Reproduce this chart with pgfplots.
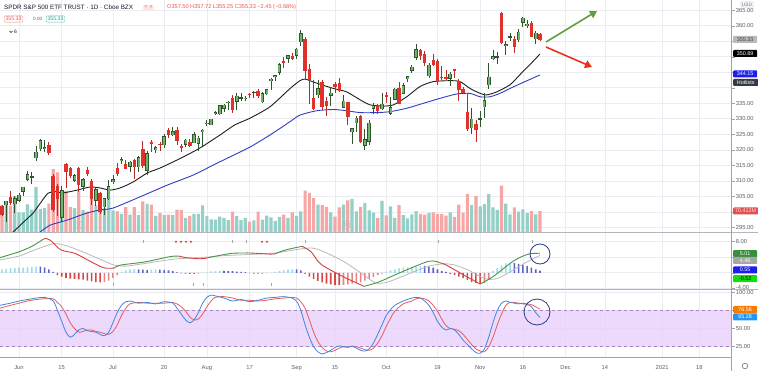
\documentclass[border=0pt]{standalone}
\usepackage{pgfplots}
\pgfplotsset{compat=1.18}
\usepackage{pgfplotstable}
\usetikzlibrary{arrows.meta}
\usepackage{fontspec}
\setmainfont{Liberation Sans}
\newfontfamily\sym{DejaVu Sans}
\newcommand\tf{\fontsize{5.8}{7}\selectfont}
\definecolor{gridc}{RGB}{234,236,241}
\definecolor{tickc}{RGB}{90,94,106}
\definecolor{axisc}{RGB}{160,163,172}
\definecolor{sepc}{RGB}{178,181,190}
\definecolor{upc}{RGB}{112,182,104}
\definecolor{upo}{RGB}{48,84,48}
\definecolor{dnc}{RGB}{224,49,42}
\definecolor{dnw}{RGB}{190,40,35}
\definecolor{volup}{RGB}{146,208,200}
\definecolor{voldn}{RGB}{246,166,164}
\definecolor{maK}{RGB}{30,30,30}
\definecolor{maB}{RGB}{50,60,190}
\definecolor{macdG}{RGB}{70,150,70}
\definecolor{macdR}{RGB}{220,60,60}
\definecolor{sigc}{RGB}{185,185,185}
\definecolor{hA}{RGB}{95,95,200}
\definecolor{hB}{RGB}{160,220,232}
\definecolor{hC}{RGB}{215,70,70}
\definecolor{hD}{RGB}{232,130,130}
\definecolor{stK}{RGB}{66,133,220}
\definecolor{stD}{RGB}{235,90,90}
\definecolor{band}{RGB}{233,210,250}
\definecolor{bandl}{RGB}{165,135,190}
\definecolor{tvred}{RGB}{239,83,80}
\definecolor{tvteal}{RGB}{38,166,154}
\definecolor{txt}{RGB}{19,23,34}
\definecolor{arrg}{RGB}{96,160,60}
\definecolor{arrr}{RGB}{232,50,30}
\definecolor{circ}{RGB}{40,60,140}

\pgfplotstableread{
i O H L C V
-4 301.93 302.19 298.69 299.08 89
-3 302.12 303.57 296.87 303.53 104
-2 304.65 306.84 302.24 302.97 87
-1 302.46 304.96 299.47 304.32 119
0 303.62 306.21 303.06 305.55 66
1 306.55 308.13 305.10 308.08 66
2 310.24 313.22 309.94 312.18 92
3 311.11 313.00 309.08 311.36 75
4 317.23 321.27 316.47 319.34 150
5 320.22 323.41 319.63 323.20 77
6 320.30 323.28 319.36 320.79 80
7 321.42 322.39 318.22 319.00 95
8 311.46 312.15 300.01 300.61 209
9 308.24 309.08 298.60 304.21 198
10 298.02 308.28 296.74 307.05 135
11 315.48 315.64 307.67 312.96 137
12 314.07 314.39 310.86 311.66 83
13 310.00 312.30 309.51 311.78 80
14 314.17 314.38 306.53 308.64 135
15 307.99 311.05 306.75 310.62 74
16 313.49 314.50 311.61 312.05 68
17 309.84 310.51 302.10 304.09 131
18 303.47 307.64 301.88 307.35 89
19 306.16 306.39 299.42 300.05 127
20 301.41 304.61 298.93 304.46 79
21 303.99 310.20 303.82 308.36 113
22 309.57 311.89 309.07 310.52 72
23 314.24 315.70 311.51 312.23 69
24 316.37 317.68 315.56 317.05 61
25 315.38 316.70 313.70 313.78 83
26 314.61 316.30 312.70 316.18 58
27 316.84 317.10 310.68 314.38 83
28 314.31 317.88 312.76 317.59 57
29 320.13 322.71 314.13 314.84 102
30 313.30 319.76 312.00 318.92 94
31 322.41 323.04 319.27 321.85 91
32 319.79 321.28 319.09 320.79 54
33 321.88 322.57 319.74 321.72 63
34 321.43 325.13 320.62 324.32 57
35 326.45 326.93 323.94 324.84 58
36 324.62 327.20 324.50 326.04 57
37 326.47 327.23 321.48 322.98 75
38 320.95 321.99 319.25 320.88 73
39 321.63 323.41 320.77 323.22 48
40 322.43 323.64 320.85 321.17 54
41 322.12 325.73 322.08 325.12 61
42 321.90 324.41 319.64 323.96 61
43 325.90 326.63 321.33 326.52 89
44 328.32 329.62 327.73 328.79 53
45 327.86 330.06 327.86 330.06 43
46 331.47 332.39 331.18 332.11 42
47 331.48 334.46 331.13 334.33 52
48 333.28 334.88 332.30 334.57 48
49 335.06 335.77 332.96 335.57 40
50 336.85 337.54 331.87 332.80 68
51 335.44 338.28 332.84 337.44 53
52 336.60 338.25 335.83 336.83 41
53 336.41 337.42 335.62 336.84 47
54 337.94 338.34 336.85 337.91 35
55 338.34 339.10 336.61 338.64 39
56 339.05 339.61 336.62 337.23 68
57 335.36 338.80 335.22 338.28 42
58 337.92 339.72 337.55 339.48 55
59 342.12 343.00 339.45 342.92 49
60 343.53 344.21 342.27 344.12 38
61 344.76 347.86 344.17 347.57 51
62 348.51 349.90 346.53 348.33 58
63 349.44 350.72 348.15 350.58 48
64 350.35 351.30 349.06 349.31 66
65 350.35 352.71 349.24 352.60 54
66 354.67 358.75 353.43 357.70 69
67 355.87 356.38 342.59 345.39 138
68 346.13 347.83 334.87 342.57 130
69 336.71 342.64 332.88 333.21 113
70 337.55 342.46 336.61 339.79 91
71 341.82 342.53 332.85 333.89 90
72 335.82 336.97 331.00 334.06 84
73 337.49 340.38 334.22 338.46 66
74 341.12 342.02 338.47 340.17 52
75 341.51 343.06 338.52 338.82 82
76 333.56 337.70 333.56 335.84 91
77 335.37 335.49 327.97 330.65 105
78 325.70 327.13 321.73 326.97 110
79 328.57 330.90 325.86 330.30 69
80 330.90 331.20 322.10 322.64 84
81 321.22 326.80 319.80 323.50 96
82 322.58 329.58 321.64 328.73 72
83 333.22 334.96 331.61 334.19 65
84 333.97 334.77 331.62 332.37 48
85 333.09 338.29 332.88 334.89 104
86 337.69 338.74 335.01 337.04 56
87 331.70 337.02 331.19 333.84 86
88 336.06 339.96 336.01 339.76 48
89 339.91 342.01 334.82 334.93 90
90 338.12 341.63 338.09 340.76 57
91 342.85 343.85 341.86 343.78 46
92 345.56 347.35 344.89 346.85 59
93 349.59 354.02 349.06 352.43 70
94 352.28 352.47 349.09 350.13 61
95 350.75 351.93 347.14 347.93 58
96 343.71 348.02 343.13 347.50 64
97 348.96 350.75 347.10 347.29 66
98 348.65 349.33 341.04 342.01 61
99 343.46 346.88 342.64 343.38 60
100 343.33 345.67 342.40 342.73 55
101 342.96 345.24 340.65 344.61 66
102 345.93 345.99 343.13 345.78 51
103 342.13 342.98 335.62 339.39 91
104 339.76 340.12 337.99 338.22 65
105 332.10 338.25 326.13 326.66 127
106 326.91 333.40 325.09 329.98 90
107 328.28 329.69 322.60 326.54 120
108 329.90 332.36 327.24 330.20 86
109 333.69 338.25 330.29 336.03 93
110 340.86 347.94 339.59 343.54 126
111 349.24 352.19 348.86 350.24 82
112 349.93 351.51 347.65 350.16 74
113 363.97 364.38 354.06 354.56 154
114 353.49 355.18 350.51 354.04 95
115 356.40 357.56 355.06 356.67 59
116 355.58 356.72 351.26 353.21 82
117 355.27 358.90 354.71 358.10 68
118 360.98 362.78 359.59 362.57 76
119 359.97 361.92 359.33 360.62 63
120 360.91 361.50 356.24 356.28 70
121 355.60 358.18 354.15 357.78 59
122 357.50 357.72 355.25 355.33 70
}\ohlc

\pgfplotstableread{
i h c
-4 0.9 1
-3 1.0 1
-2 1.1 1
-1 1.2 1
0 1.3 1
1 1.3 1
2 1.4 1
3 1.5 1
4 1.6 1
5 1.6 2
6 1.4 2
7 0.9 2
8 0.2 2
9 -0.6 3
10 -1.0 3
11 -1.3 3
12 -1.5 3
13 -1.6 3
14 -1.7 3
15 -1.8 3
16 -2.0 3
17 -2.2 3
18 -2.4 3
19 -2.5 3
20 -2.4 4
21 -2.0 4
22 -1.4 4
23 -0.6 4
24 0.3 1
25 0.6 1
26 0.8 1
27 0.9 1
28 0.9 2
29 0.8 2
30 0.7 2
31 0.8 1
32 0.9 1
33 0.8 2
34 0.7 2
35 0.6 2
36 0.4 2
37 0.1 2
38 -0.15 3
39 -0.25 3
40 -0.3 3
41 -0.3 3
42 -0.2 4
43 -0.1 4
44 0.2 1
45 0.35 1
46 0.45 1
47 0.5 1
48 0.5 2
49 0.45 2
50 0.4 2
51 0.3 2
52 0.25 2
53 0.15 2
54 -0.1 3
55 -0.2 3
56 -0.2 3
57 -0.25 3
58 -0.15 4
59 -0.05 4
60 0.2 1
61 0.4 1
62 0.6 1
63 0.8 1
64 0.9 1
65 0.9 2
66 0.6 2
67 -0.3 3
68 -1.0 3
69 -1.6 3
70 -2.1 3
71 -2.5 3
72 -2.8 3
73 -3.0 3
74 -3.2 3
75 -3.2 3
76 -3.1 4
77 -3.0 4
78 -2.8 4
79 -2.6 4
80 -2.4 4
81 -2.0 4
82 -1.6 4
83 -1.1 4
84 -0.6 4
85 -0.2 4
86 0.3 1
87 0.6 1
88 0.9 1
89 1.2 1
90 1.3 1
91 1.4 1
92 1.5 1
93 1.6 1
94 1.8 1
95 1.8 2
96 1.6 2
97 1.3 2
98 0.9 2
99 0.5 2
100 0.2 2
101 -0.3 3
102 -0.6 3
103 -1.0 3
104 -1.4 3
105 -1.9 3
106 -2.4 3
107 -2.7 3
108 -2.9 3
109 -2.6 4
110 -1.8 4
111 0.5 1
112 1.2 1
113 1.9 1
114 2.4 1
115 2.6 1
116 2.5 2
117 2.3 2
118 2.0 2
119 1.7 2
120 1.3 2
121 0.9 2
122 0.55 2
}\hist

\pgfplotstableread{
i K D
-4.5 82 78
-2 85 82
0 88 85
2 90 88
4 92 90
6 93 91
8 88 91
9 75 86
10 60 80
11 45 70
12 38 58
13 42 50
14 48 45
15 50 46
16 47 48
17 46 48
18 45 46
19 42 45
20 40 43
21 45 42
22 58 46
23 72 55
24 82 68
25 87 78
26 88 84
28 85 86
30 86 85
32 84 85
34 87 85
36 85 86
37 78 84
38 70 80
39 62 74
40 58 66
41 62 62
42 72 63
43 85 70
44 93 80
45 96 88
46 95 93
48 92 94
50 88 92
52 90 89
54 87 89
56 89 88
58 92 89
60 93 91
62 94 92
64 92 93
65 88 92
66 75 87
67 55 78
68 38 62
69 25 45
70 18 32
71 15 24
72 17 19
73 20 18
74 24 20
75 26 23
76 25 25
77 24 25
78 26 25
79 23 25
80 20 23
81 19 21
82 22 20
83 30 23
84 42 30
85 55 40
86 68 53
87 76 64
88 82 74
90 88 84
92 92 88
93 93 91
94 92 92
95 88 91
96 82 88
97 72 82
98 60 74
99 52 63
100 48 54
101 50 50
102 48 49
103 42 47
104 34 42
105 28 35
106 22 28
107 17 22
108 16 19
109 22 18
110 38 25
111 58 38
112 75 55
113 85 70
114 88 82
115 86 86
116 85 86
117 84 85
118 85 84
119 83 84
120 80 83
121 72 80
122 65.28 76.56
}\stoch

\pgfplotsset{
  panel/.style={scale only axis, xmin=-4.45, xmax=166.9, axis line style={draw=none},
    xtick={0,10,22,34,44,54,65,74,86,98,108,118,128,137.2,150.6,159.3},
    xtick style={draw=none}, grid=major, major grid style={draw=gridc, line width=0.6pt},
    ytick pos=right, yticklabel pos=right, ytick style={draw=axisc, line width=0.5pt},
    tick align=outside, major tick length=3pt,
    yticklabel style={font=\tf, text=tickc, inner sep=1pt}},
  over/.style={scale only axis, xmin=-4.45, xmax=166.9, hide axis},
  wick/.style={draw=none, mark=none, forget plot, error bars/y dir=both,
    error bars/y explicit, error bars/error mark=none},
}

\begin{document}
\begin{tikzpicture}[x=1pt,y=1pt]
\path[use as bounding box] (0pt,0pt) rectangle (758pt,-371pt);

% ---------- main price panel: grid and ticks ----------
\begin{axis}[panel, at={(0pt,0pt)}, anchor=north west, width=731.7pt, height=232.3pt,
  ymin=293.39, ymax=368.32, ytick={295,300,...,365}, xticklabels={},
  yticklabels={295.00,,305.00,310.00,315.00,320.00,325.00,330.00,335.00,,,,,360.00,365.00}]
\addplot[draw=none] coordinates {(0,300)};
\end{axis}

% ---------- volume ----------
\begin{axis}[over, at={(0pt,0pt)}, anchor=north west, width=731.7pt, height=232.3pt, ymin=0, ymax=767]
\addplot[ybar, bar width=3.2pt, bar shift=0pt, fill=volup, draw=none,
  restrict expr to domain={\thisrow{C}-\thisrow{O}}{0:1000}] table[x=i, y=V]{\ohlc};
\addplot[ybar, bar width=3.2pt, bar shift=0pt, fill=voldn, draw=none,
  restrict expr to domain={\thisrow{C}-\thisrow{O}}{-1000:-0.0001}] table[x=i, y=V]{\ohlc};
\end{axis}

% ---------- candles and moving averages ----------
\begin{axis}[over, at={(0pt,0pt)}, anchor=north west, width=731.7pt, height=232.3pt,
  ymin=293.39, ymax=368.32]
\addplot[maB, line width=0.9pt, smooth, tension=0.4] coordinates {
(4.5,292.5) (4.9,293.4) (7.3,295.7) (11.2,297.3) (15.9,299.6) (19,300.6) (22,301.2)
(28.3,304.8) (34.7,308.6) (40.7,311.8) (46.4,315.7) (54.1,320.9) (58.8,324.8) (63.5,329.1)
(65.8,331.2) (69.7,332.6) (73.6,333.0) (76.7,332.6) (79.9,332.0) (83.8,332.0) (86.9,332.3)
(90.8,333.4) (94.7,335.0) (98.6,336.6) (102.5,338.0) (105.6,338.2) (108,337.1) (110.3,337.1)
(112.6,338.2) (115,339.8) (118.5,342.0) (122,344.15)};
\addplot[maK, line width=0.9pt, smooth, tension=0.4] coordinates {
(-2,292.8) (-0.9,294.1) (1,296.6) (3.3,299.6) (5,302.8) (6.8,306.0) (8.5,306.5) (10.3,306.1)
(13.6,307.0) (16.6,308.0) (19,307.7) (21.3,307.0) (23.7,307.7) (26.7,309.6) (30,312.5)
(33,314.1) (36.1,316.1) (39.3,318.3) (42.4,320.6) (47.1,324.8) (50.5,328.0) (54.1,330.2)
(58.8,333.9) (63.5,339.8) (65.8,342.3) (67,342.8) (69.7,341.5) (73.6,339.8) (76.7,338.7)
(79.9,336.1) (82.2,334.5) (85.3,334.1) (87.7,334.5) (90.8,337.1) (93.9,340.4) (97,342.0)
(101,342.3) (103.3,342.0) (105.6,339.8) (108,338.2) (109.5,337.7) (111.9,338.7) (115,341.0)
(117.5,344.5) (120,348.0) (122,350.89)};
% up candles
\addplot[wick, error bars/error bar style={draw=upo, line width=0.8pt, solid},
  restrict expr to domain={\thisrow{C}-\thisrow{O}}{0:1000}]
  table[x=i, y expr={(\thisrow{H}+\thisrow{L})/2}, y error expr={(\thisrow{H}-\thisrow{L})/2}]{\ohlc};
\addplot[wick, error bars/error bar style={draw=upo, line width=3.6pt, solid},
  restrict expr to domain={\thisrow{C}-\thisrow{O}}{0:1000}]
  table[x=i, y expr={(\thisrow{C}+\thisrow{O})/2}, y error expr={max(abs(\thisrow{C}-\thisrow{O})/2,0.2)}]{\ohlc};
\addplot[wick, error bars/error bar style={draw=upc, line width=2.0pt, solid},
  restrict expr to domain={\thisrow{C}-\thisrow{O}}{0:1000}]
  table[x=i, y expr={(\thisrow{C}+\thisrow{O})/2}, y error expr={max(abs(\thisrow{C}-\thisrow{O})/2-0.2,0)}]{\ohlc};
% down candles
\addplot[wick, error bars/error bar style={draw=dnw, line width=0.8pt, solid},
  restrict expr to domain={\thisrow{C}-\thisrow{O}}{-1000:-0.0001}]
  table[x=i, y expr={(\thisrow{H}+\thisrow{L})/2}, y error expr={(\thisrow{H}-\thisrow{L})/2}]{\ohlc};
\addplot[wick, error bars/error bar style={draw=dnc, line width=3.4pt, solid},
  restrict expr to domain={\thisrow{C}-\thisrow{O}}{-1000:-0.0001}]
  table[x=i, y expr={(\thisrow{C}+\thisrow{O})/2}, y error expr={max(abs(\thisrow{C}-\thisrow{O})/2,0.2)}]{\ohlc};
\end{axis}

% ---------- MACD panel ----------
\begin{axis}[panel, at={(0pt,-232.3pt)}, anchor=north west, width=731.7pt, height=57pt,
  ymin=-4.26, ymax=10.42, ytick={-4,0,4,8}, xticklabels={},
  yticklabels={\raisebox{1.2pt}{-4.00},,,8.00}]
\addplot[ybar, bar width=1.6pt, bar shift=0pt, fill=hB, draw=none,
  restrict expr to domain={\thisrow{c}}{1:1}] table[x=i, y=h]{\hist};
\addplot[ybar, bar width=1.6pt, bar shift=0pt, fill=hA, draw=none,
  restrict expr to domain={\thisrow{c}}{2:2}] table[x=i, y=h]{\hist};
\addplot[ybar, bar width=1.6pt, bar shift=0pt, fill=hC, draw=none,
  restrict expr to domain={\thisrow{c}}{3:3}] table[x=i, y=h]{\hist};
\addplot[ybar, bar width=1.6pt, bar shift=0pt, fill=hD, draw=none,
  restrict expr to domain={\thisrow{c}}{4:4}] table[x=i, y=h]{\hist};
% signal
\addplot[sigc, line width=0.8pt, smooth, tension=0.4] coordinates {
(-4.45,3.3) (0,4.3) (4,6.0) (8.1,7.5) (11,7.0) (14,5.8) (17,4.4) (20,3.0) (22.2,2.0) (25,1.7)
(29,2.3) (33,3.0) (37,3.6) (42.4,3.9) (48,4.4) (55.7,4.8) (60,5.1) (63,5.6) (65.8,6.1) (68.4,6.4)
(71,5.6) (75.9,3.0) (80,0) (83.4,-2.6) (86,-2.5) (89.2,-1.2) (93,0.5) (96,1.7) (98.4,2.2)
(100,2.3) (102,2.0) (105,0.8) (108.5,-1.2) (110,-1.7) (112,-1.5) (114,-0.4) (116,0.9)
(118,2.2) (120,3.4) (122,4.46)};
% MACD line
\addplot[macdG, line width=0.9pt, smooth] coordinates {(-4.45,3.9) (0,5.4) (3,6.8) (6,8.85)};
\addplot[macdR, line width=0.9pt, smooth] coordinates {(6,8.85) (7.3,8.4) (9.8,5.9) (13.1,5.0) (16.4,3.1) (19.8,1.3) (22.2,1.2)};
\addplot[macdG, line width=0.9pt, smooth] coordinates {(22.2,1.2) (23.9,2.0) (29,2.7) (33,3.6) (35.6,4.2) (37.4,4.3)};
\addplot[macdR, line width=0.9pt, smooth] coordinates {(37.4,4.3) (39.1,3.9) (42.4,3.6) (44,3.8)};
\addplot[macdG, line width=0.9pt, smooth] coordinates {(44,3.8) (45.7,4.2) (49.9,5.0) (54,5.1)};
\addplot[macdR, line width=0.9pt, smooth] coordinates {(54,5.1) (55.7,5.0) (59,4.8) (60,4.9)};
\addplot[macdG, line width=0.9pt, smooth] coordinates {(60,4.9) (62.5,5.9) (66.3,6.8)};
\addplot[macdR, line width=0.9pt, smooth] coordinates {(66.3,6.8) (68.4,5.4) (70.7,2.2) (75.9,-1.0) (80.8,-3.5)};
\addplot[macdG, line width=0.9pt, smooth] coordinates {(80.8,-3.5) (84.2,-2.4) (89.2,0) (95.9,2.95) (98.5,2.6)};
\addplot[macdR, line width=0.9pt, smooth] coordinates {(98.5,2.6) (100,2.0) (104.2,-0.6) (108,-2.9)};
\addplot[macdG, line width=0.9pt, smooth] coordinates {(108,-2.9) (111,-1.0) (115.9,3.1) (119.3,4.8) (122,5.01)};
\end{axis}

% ---------- Stochastic panel ----------
\begin{axis}[panel, at={(0pt,-289.3pt)}, anchor=north west, width=731.7pt, height=67.7pt,
  ymin=10.8, ymax=104.1, ytick={25,50,75,100},
  yticklabels={25.00,50.00,,\raisebox{-1.2pt}{100.00}},
  xticklabels={Jun,15,Jul,20,Aug,17,Sep,15,Oct,19,Nov,16,Dec,14,2021,18},
  xticklabel style={font=\tf, text=tickc, anchor=base, yshift=-10pt}]
\addplot[fill=band, fill opacity=0.85, draw=none] coordinates {(-4.45,25) (166.9,25) (166.9,75) (-4.45,75)} -- cycle;
\addplot[bandl, dashed, line width=0.6pt] coordinates {(-4.45,75) (166.9,75)};
\addplot[bandl, dashed, line width=0.6pt] coordinates {(-4.45,25) (166.9,25)};
\addplot[stD, line width=0.8pt, smooth, tension=0.5] table[x=i, y=D]{\stoch};
\addplot[stK, line width=0.8pt, smooth, tension=0.5] table[x=i, y=K]{\stoch};
\end{axis}

% ---------- separators ----------
\draw[sepc, line width=1.3pt] (0pt,-232.3pt) -- (758pt,-232.3pt);
\draw[sepc, line width=1.3pt] (0pt,-289.3pt) -- (758pt,-289.3pt);
\draw[axisc, line width=0.8pt] (0pt,-357pt) -- (731.7pt,-357pt);
\draw[axisc, line width=0.8pt] (731.7pt,0pt) -- (731.7pt,-371pt);

% ---------- MACD markers ----------
\foreach \xx in {176,181,186,191,262,267}
  \node[text=dnc, font=\sym\fontsize{3.2}{4}\selectfont, inner sep=0pt] at (\xx pt,-242.5pt) {▼};
\foreach \xx in {143,232,246,305,438,532}
  \draw[gray!70, line width=0.4pt] (\xx pt,-240.5pt) -- (\xx pt,-243.5pt);
\foreach \xx in {113,193,203,271}
  \draw[gray!70, line width=0.4pt] (\xx pt,-283pt) -- (\xx pt,-286pt);

% ---------- dividend markers ----------
\foreach \xx in {79,346}
  \node[circle, draw=gray!55, line width=0.5pt, inner sep=0.6pt, minimum size=8pt,
    text=gray!70, font=\fontsize{4}{4}\selectfont] at (\xx pt,-225pt) {D};

% ---------- annotations ----------
\draw[arrg, line width=1.6pt, -{Triangle[length=7pt,width=8pt]}] (546pt,-42pt) -- (597pt,-11pt);
\draw[arrr, line width=1.6pt, -{Triangle[length=7pt,width=8pt]}] (546pt,-47pt) -- (592pt,-67pt);
\draw[circ, line width=0.8pt] (540pt,-254pt) circle (10pt);
\draw[circ, line width=0.8pt] (537pt,-312pt) circle (13pt);

% ---------- header ----------
\node[anchor=west, inner sep=0pt, text=txt, font=\fontsize{6.3}{7}\selectfont] at (4pt,-7.5pt)
  {SPDR S\&P 500 ETF TRUST · 1D · Cboe BZX};
\node[anchor=west, fill=tvred!15, rounded corners=1pt, inner sep=1.2pt, text=tvred,
  font=\fontsize{5}{6}\selectfont] at (143pt,-7.5pt) {= \,×};
\node[anchor=west, inner sep=0pt, text=tvred, font=\fontsize{5.6}{7}\selectfont] at (167pt,-7.5pt)
  {O357.50 H357.72 L355.25 C355.33 −2.45 (−0.68\%)};
\node[anchor=west, draw=tvred!70, rounded corners=1pt, inner sep=1.3pt, text=tvred,
  font=\fontsize{5.2}{6}\selectfont] at (4pt,-19pt) {355.33};
\node[anchor=west, inner sep=0pt, text=tickc, font=\fontsize{4.6}{6}\selectfont] at (33pt,-19pt) {0.00};
\node[anchor=west, draw=tvteal!70, rounded corners=1pt, inner sep=1.3pt, text=tvteal,
  font=\fontsize{5.2}{6}\selectfont] at (46pt,-19pt) {355.33};
\draw[txt, line width=0.5pt] (9.5pt,-31pt) -- (11pt,-32.5pt) -- (12.5pt,-31pt);
\node[anchor=west, inner sep=0pt, text=txt, font=\fontsize{5}{6}\selectfont] at (14pt,-32pt) {6};

% ---------- right-hand value labels ----------
\node[anchor=center, draw=gray!40, fill=white, rounded corners=1pt, inner sep=1pt, text=tickc,
  font=\fontsize{4.8}{5}\selectfont] at (747pt,-4.5pt) {USD};
\tikzset{vlab/.style={anchor=west, minimum width=24pt, minimum height=7pt, inner sep=0.8pt,
  font=\fontsize{5.4}{6}\selectfont, rounded corners=0.8pt}}
\node[vlab, fill=gray!55, text=black!75] at (733pt,-39.3pt) {355.33};
\node[vlab, fill=black, text=white] at (733pt,-53.5pt) {350.89};
\node[vlab, fill={rgb,255:red,30;green,30;blue,235}, text=white] at (733pt,-74pt) {344.15};
\node[vlab, fill={rgb,255:red,54;green,58;blue,69}, text=white, minimum width=25pt] at (733pt,-82.5pt) {Hotlists};
\node[vlab, fill={rgb,255:red,224;green,80;blue,80}, text=white!90!red, minimum width=25pt] at (733pt,-211pt) {70.412M};
\node[vlab, fill={rgb,255:red,56;green,142;blue,60}, text=white] at (733pt,-253.7pt) {5.01};
\node[vlab, fill=gray!70, text=white] at (733pt,-260.5pt) {4.46};
\node[vlab, fill={rgb,255:red,30;green,30;blue,235}, text=white] at (733pt,-270pt) {0.55};
\node[vlab, fill={rgb,255:red,20;green,220;blue,20}, text=black] at (733pt,-278.7pt) {-0.52};
\node[vlab, fill={rgb,255:red,245;green,124;blue,0}, text=white] at (733pt,-309.5pt) {76.56};
\node[vlab, fill={rgb,255:red,33;green,150;blue,243}, text=white] at (733pt,-317pt) {65.28};
\draw[gray, line width=0.7pt] (745pt,-366pt) circle (2.8pt);
\end{tikzpicture}
\end{document}
